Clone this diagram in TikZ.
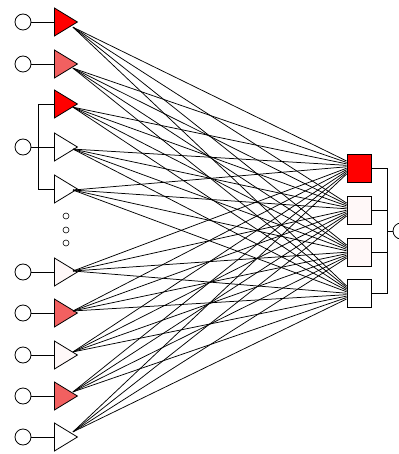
\documentclass[tikz,border=0pt]{standalone}
\usetikzlibrary{shapes.geometric,calc}
\definecolor{redA}{HTML}{FF0000}
\definecolor{redB}{HTML}{F26060}
\definecolor{paleA}{HTML}{FFF8F8}
\begin{document}
\begin{tikzpicture}[x=1pt,y=-1pt,line width=0.8pt,
  innode/.style={circle,draw,minimum size=16pt,inner sep=0pt},
  tri/.style={isosceles triangle,isosceles triangle stretches,draw,minimum width=28pt,minimum height=23pt,inner sep=0pt,anchor=west},
  sq/.style={rectangle,draw,minimum width=24pt,minimum height=28pt,inner sep=0pt},
  dotnode/.style={circle,draw,minimum size=6pt,inner sep=0pt,line width=0.6pt},
  wire/.style={line width=0.75pt}]
\useasboundingbox (0,0) rectangle (398,454);
% triangles
\node[tri,fill=redA]  (t1)  at (54,22)  {};
\node[tri,fill=redB]  (t2)  at (54,64)  {};
\node[tri,fill=redA]  (t3)  at (54,104) {};
\node[tri,fill=white] (t4)  at (54,147) {};
\node[tri,fill=white] (t5)  at (54,189) {};
\node[tri,fill=paleA] (t6)  at (54,272) {};
\node[tri,fill=redB]  (t7)  at (54,313) {};
\node[tri,fill=paleA] (t8)  at (54,355) {};
\node[tri,fill=redB]  (t9)  at (54,396) {};
\node[tri,fill=white] (t10) at (54,437) {};
% input circles
\node[innode] (c1)  at (23,22)  {};
\node[innode] (c2)  at (23,64)  {};
\node[innode] (c4)  at (23,147) {};
\node[innode] (c6)  at (23,272) {};
\node[innode] (c7)  at (23,313) {};
\node[innode] (c8)  at (23,355) {};
\node[innode] (c9)  at (23,396) {};
\node[innode] (c10) at (23,437) {};
\foreach \k in {1,2,4,6,7,8,9,10} {\draw (c\k) -- (t\k.west);}
% bracket
\coordinate (b3) at (38,104);
\coordinate (b5) at (38,189);
\draw (t3.west) -- (b3) -- (b5) -- (t5.west);
% dots
\node[dotnode] (d1) at (66,216) {};
\node[dotnode] (d2) at (66,230) {};
\node[dotnode] (d3) at (66,243) {};
% squares
\node[sq,fill=redA]  (q1) at (359,168) {};
\node[sq,fill=paleA] (q2) at (359,210) {};
\node[sq,fill=paleA] (q3) at (359,252) {};
\node[sq,fill=white] (q4) at (359,293) {};
% start points of wires
\foreach \k/\y in {1/22,2/64,3/104,4/147,5/189,6/272,7/313,8/355,9/396,10/437} {
  \coordinate (s\k) at (73,{\y+(231-\y)/40});
}
% wires
\foreach \i in {1,...,10} {
  \foreach \j in {1,...,4} {
    \draw[wire] (s\i) -- ($(q\j.west)+(0,{-7+13*(\i-1)/9})$);
  }
}
% output side
\coordinate (rb) at (387,231);
\node[innode] (out) at (401,231) {};
\draw (q1.east) -- (q1.east -| rb) -- (q4.east -| rb) -- (q4.east);
\draw (q2.east) -- (q2.east -| rb);
\draw (q3.east) -- (q3.east -| rb);
\draw (rb) -- (out);
\end{tikzpicture}
\end{document}
